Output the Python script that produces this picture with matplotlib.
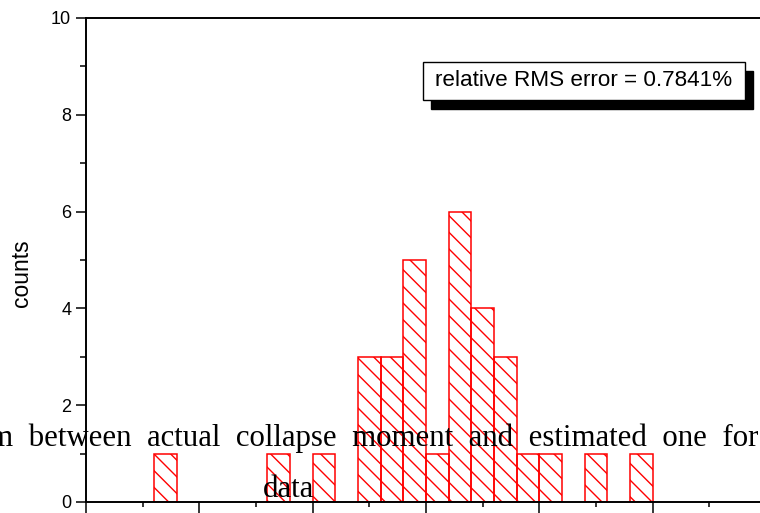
import numpy as np
import matplotlib.pyplot as plt
from matplotlib.patches import Rectangle
from matplotlib.ticker import MultipleLocator

plt.rcParams['font.family'] = ['Liberation Sans', 'DejaVu Sans']
plt.rcParams['hatch.linewidth'] = 1.0

# histogram bins (bin index of left edge) and counts
bin_left = [3, 8, 10, 12, 13, 14, 15, 16, 17, 18, 19, 20, 22, 24]
counts = [1, 1, 1, 3, 3, 5, 1, 6, 4, 3, 1, 1, 1, 1]

box_text = 'relative RMS error = 0.7841%'
title_line1 = 'Histogram between actual collapse moment and estimated one for'
title_line2 = 'data'

fig = plt.figure(figsize=(7.6, 5.13), dpi=100)
ax = fig.add_axes([86 / 760, 11 / 513, 680 / 760, 484 / 513])

ax.bar(bin_left, counts, width=1, align='edge', facecolor='none',
       edgecolor='red', hatch='\\\\', linewidth=1.1)

ax.set_xlim(0, 30)
ax.set_ylim(0, 10)
ax.xaxis.set_major_locator(MultipleLocator(5))
ax.xaxis.set_minor_locator(MultipleLocator(2.5))
ax.yaxis.set_major_locator(MultipleLocator(2))
ax.yaxis.set_minor_locator(MultipleLocator(1))
ax.tick_params(axis='x', which='major', length=9, width=1.1, labelbottom=False)
ax.tick_params(axis='x', which='minor', length=3.6, width=1.1)
ax.tick_params(axis='y', which='major', length=7.2, width=1.1, labelsize=13)
ax.tick_params(axis='y', which='minor', length=4.3, width=1.1)
for s in ax.spines.values():
    s.set_linewidth(1.4)

ax.set_ylabel('counts', fontsize=16.5)
ax.yaxis.set_label_coords(-0.078, 0.473)

# text box with a drop shadow
bx, by, bw, bh = 423 / 760, 1 - 100 / 513, 322 / 760, 38 / 513
fig.add_artist(Rectangle((bx + 8 / 760, by - 9 / 513), bw, bh, transform=fig.transFigure,
                         facecolor='black', edgecolor='black', zorder=5))
fig.add_artist(Rectangle((bx, by), bw, bh, transform=fig.transFigure,
                         facecolor='white', edgecolor='black', linewidth=1, zorder=6))
fig.text(bx + bw / 2, by + bh / 2, box_text, ha='center', va='center',
         fontsize=16.2, zorder=7)

# overlapping serif caption (wide word spacing as in the original)
fig.text(758 / 760, 1 - 446 / 513, title_line1.replace(' ', '  '), ha='right',
         va='baseline', family='Liberation Serif', fontsize=22.2, zorder=8)
fig.text(289 / 760, 1 - 497 / 513, title_line2, ha='center', va='baseline',
         family='Liberation Serif', fontsize=22.2, zorder=8)

fig.savefig('out.png', dpi=100)
